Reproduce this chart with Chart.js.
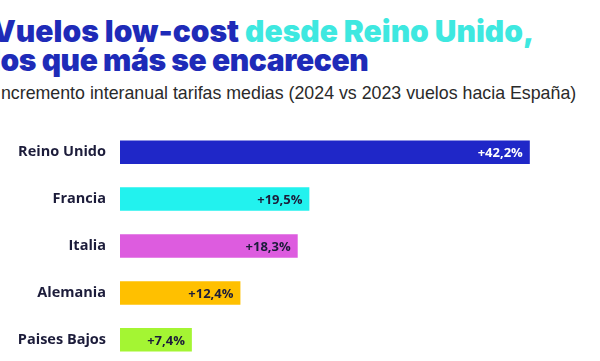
<!DOCTYPE html>
<html><head><meta charset="utf-8">
<script src="https://cdn.jsdelivr.net/npm/chart.js@4/dist/chart.umd.min.js"></script>
<style>
html,body{margin:0;padding:0;width:600px;height:361px;overflow:hidden;background:#fff;position:relative}
.t{position:absolute;font-family:Inter,"Noto Sans",sans-serif;font-weight:900;font-size:30px;color:#1e2bb8;white-space:nowrap;line-height:30px}
.sub{position:absolute;left:-4px;top:83px;font-family:"Liberation Sans",Arial,sans-serif;font-size:17.8px;color:#2a2a2a;white-space:nowrap}
#wrap{position:absolute;left:0;top:129px;width:600px;height:235px}
</style></head><body>
<div class="t" style="left:-8px;top:16px">Vuelos low-cost <span style="color:#3ee8e0">desde Reino Unido,</span></div>
<div class="t" style="left:-8px;top:45px;letter-spacing:-0.4px">los que más se encarecen</div>
<div class="sub">Incremento interanual tarifas medias (2024 vs 2023 vuelos hacia España)</div>
<div id="wrap"><canvas id="c" width="600" height="235"></canvas></div>
<script>
const categories = ["Reino Unido","Francia","Italia","Alemania","Paises Bajos"];
const values = [42.2, 19.5, 18.3, 12.4, 7.4];
const valueLabels = ["+42,2%","+19,5%","+18,3%","+12,4%","+7,4%"];
const barColors = ["#1f27c8","#22f2ee","#dd5cdf","#ffc000","#a4f533"];
const labelColors = ["#ffffff","#1c1c3a","#1c1c3a","#1c1c3a","#1c1c3a"];

const valuePlugin = {
  id:'vals',
  afterDatasetsDraw(chart){
    const ctx = chart.ctx;
    const meta = chart.getDatasetMeta(0);
    ctx.save();
    ctx.font = 'bold 13px "Open Sans", sans-serif';
    ctx.textAlign = 'right';
    ctx.textBaseline = 'middle';
    meta.data.forEach((bar,i)=>{
      ctx.fillStyle = labelColors[i];
      ctx.fillText(valueLabels[i], bar.x - 7, bar.y + 1);
    });
    ctx.restore();
  }
};

const chart = new Chart(document.getElementById('c'), {
  type:'bar',
  data:{labels:categories, datasets:[{data:values, backgroundColor:barColors, borderWidth:0, barPercentage:0.5, categoryPercentage:1}]},
  options:{
    indexAxis:'y', responsive:false, maintainAspectRatio:false, animation:false,
    layout:{padding:{left:0,right:43,top:0,bottom:0}},
    plugins:{legend:{display:false}, tooltip:{enabled:false}},
    scales:{
      x:{display:false, min:0, max:45},
      y:{
        grid:{display:false, drawTicks:false}, border:{display:false},
        afterFit(s){ s.width = 120; },
        ticks:{padding:14, color:'#1c1c3a', font:{family:'"Open Sans", sans-serif', weight:'bold', size:14.5}}
      }
    }
  },
  plugins:[valuePlugin]
});
// Fit the plot area so the category band spans the target vertical range
(function fit(){
  const wantTop = 129, wantH = 235;
  const wrap = document.getElementById('wrap');
  for (let k=0;k<4;k++){
    const a = chart.chartArea;
    const extra = chart.height - (a.bottom - a.top);
    const newH = Math.round(wantH + extra);
    wrap.style.height = newH + 'px';
    chart.resize(600, newH);
    chart.update('none');
    wrap.style.top = (wantTop - chart.chartArea.top) + 'px';
  }
})();
</script>
</body></html>
